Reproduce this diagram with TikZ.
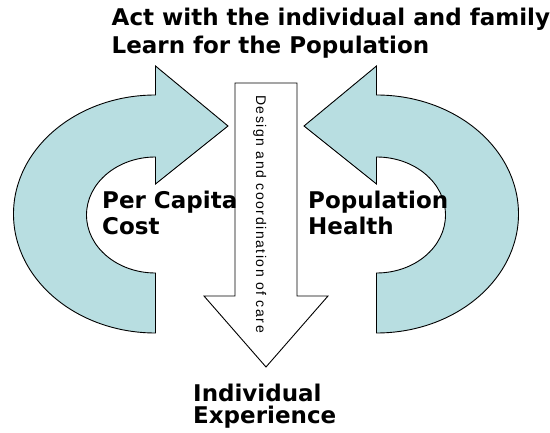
\documentclass[tikz,border=0pt]{standalone}
\usepackage{fontspec}
\setmainfont{DejaVu Sans}
\newfontfamily\flowfont[LetterSpace=11]{Liberation Sans}

\definecolor{cycleblue}{RGB}{184,222,225}

\tikzset{
  cyclearrow/.style={fill=cycleblue, draw=black, line width=0.9pt, line join=miter},
  flowarrow/.style={fill=white, draw=black, line width=0.9pt, line join=miter},
  heading/.style={font=\bfseries\fontsize{23}{27}\selectfont, anchor=base west, inner sep=0pt},
  flowtext/.style={font=\flowfont\fontsize{14}{16}\selectfont, rotate=-90, anchor=base, inner sep=0pt}
}

\begin{document}
\begin{tikzpicture}[x=1pt, y=-1pt]
  \useasboundingbox (0,0) rectangle (550,433);

  % left curved arrow (cost loop), pointing right
  \draw[cyclearrow] (228,126) -- (155.5,66) -- (155.5,95)
    arc[start angle=-90, end angle=-270, x radius=142, y radius=119]
    -- (155.5,273)
    arc[start angle=90, end angle=270, x radius=69, y radius=58]
    -- (155.5,184) -- cycle;

  % right curved arrow (health loop), pointing left
  \draw[cyclearrow] (304,126) -- (376.5,66) -- (376.5,95)
    arc[start angle=-90, end angle=90, x radius=142, y radius=119]
    -- (376.5,273)
    arc[start angle=90, end angle=-90, x radius=69, y radius=58]
    -- (376.5,184) -- cycle;

  % central downward arrow
  \draw[flowarrow] (235,83) -- (297,83) -- (297,296) -- (328,296)
    -- (266,367) -- (204,296) -- (235,296) -- cycle;

  \node[flowtext] (flow) at (256,214) {Design and coordination of care};

  \node[heading] (act)   at (111.5,26)  {Act with the individual and family};
  \node[heading] (learn) at (111.5,53.3) {Learn for the Population};

  \node[heading] (cost1) at (102,208.5) {Per Capita};
  \node[heading] (cost2) at (102,235)   {Cost};

  \node[heading] (pop1)  at (308,209)   {Population};
  \node[heading] (pop2)  at (308,235)   {Health};

  \node[heading] (exp1)  at (193,401.7) {Individual};
  \node[heading] (exp2)  at (193,423.3) {Experience};
\end{tikzpicture}
\end{document}
